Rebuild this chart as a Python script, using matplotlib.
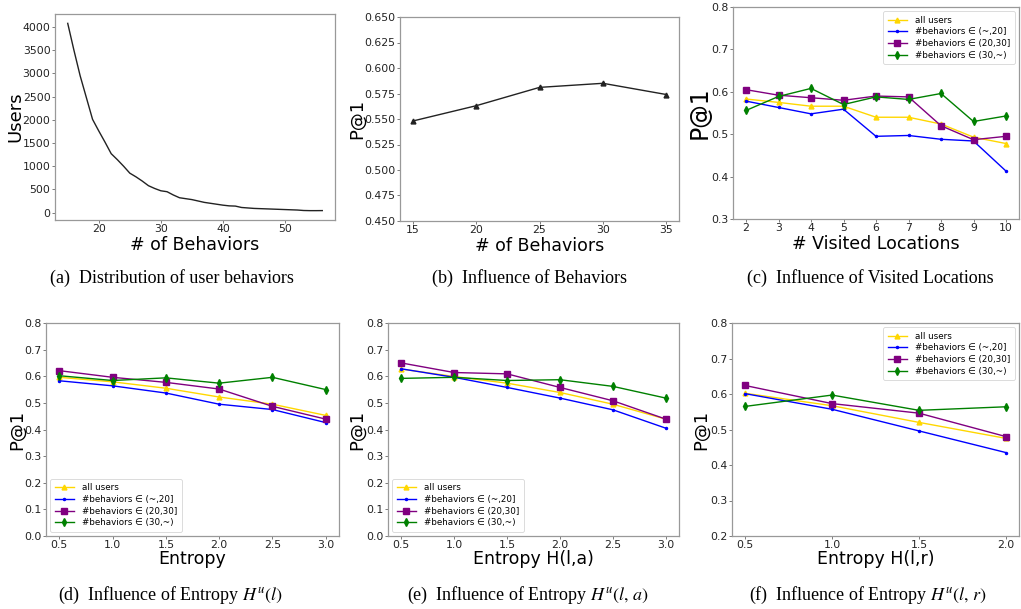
import matplotlib
matplotlib.use('Agg')
from matplotlib import pyplot as plt

plt.rcParams['mathtext.fontset'] = 'stix'

# (a) distribution of user behaviors
behav_x = list(range(15, 57))
users = [4080, 3500, 2950, 2480, 2010, 1760, 1520, 1270, 1140, 1000, 850, 770, 680, 580,
         520, 470, 450, 380, 320, 300, 280, 250, 220, 200, 180, 160, 145, 140, 110, 100,
         90, 85, 80, 75, 70, 65, 60, 55, 45, 42, 42, 43]

# (b) influence of behaviors
b_x = [15, 20, 25, 30, 35]
b_p1 = [0.548, 0.563, 0.581, 0.585, 0.574]

# (c) visited locations
c_x = [2, 3, 4, 5, 6, 7, 8, 9, 10]
c_all = [0.583, 0.575, 0.566, 0.566, 0.540, 0.540, 0.524, 0.493, 0.478]
c_low = [0.578, 0.563, 0.548, 0.559, 0.495, 0.497, 0.488, 0.484, 0.413]
c_mid = [0.605, 0.592, 0.586, 0.580, 0.590, 0.588, 0.520, 0.487, 0.495]
c_high = [0.556, 0.589, 0.608, 0.570, 0.588, 0.582, 0.596, 0.530, 0.543]

# (d) entropy H(l)
d_x = [0.5, 1.0, 1.5, 2.0, 2.5, 3.0]
d_all = [0.596, 0.579, 0.555, 0.522, 0.495, 0.453]
d_low = [0.583, 0.564, 0.537, 0.495, 0.475, 0.426]
d_mid = [0.621, 0.596, 0.577, 0.552, 0.487, 0.439]
d_high = [0.602, 0.584, 0.594, 0.574, 0.596, 0.550]

# (e) entropy H(l,a)
e_x = [0.5, 1.0, 1.5, 2.0, 2.5, 3.0]
e_all = [0.627, 0.599, 0.574, 0.539, 0.495, 0.439]
e_low = [0.628, 0.596, 0.558, 0.518, 0.474, 0.405]
e_mid = [0.650, 0.614, 0.609, 0.558, 0.508, 0.439]
e_high = [0.592, 0.596, 0.584, 0.587, 0.562, 0.518]

# (f) entropy H(l,r)
f_x = [0.5, 1.0, 1.5, 2.0]
f_all = [0.602, 0.567, 0.520, 0.475]
f_low = [0.601, 0.557, 0.496, 0.435]
f_mid = [0.624, 0.573, 0.546, 0.480]
f_high = [0.565, 0.597, 0.554, 0.564]

group_labels = ['all users', '#behaviors \u2208 (~,20]', '#behaviors \u2208 (20,30]',
                '#behaviors \u2208 (30,~)']

captions = ['(a)  Distribution of user behaviors',
            '(b)  Influence of Behaviors',
            '(c)  Influence of Visited Locations',
            '(d)  Influence of Entropy $H^u(l)$',
            '(e)  Influence of Entropy $H^u(l,\\,a)$',
            '(f)  Influence of Entropy $H^u(l,\\,r)$']

W, H = 1021, 609
fig = plt.figure(figsize=(W / 100, H / 100), dpi=100)


def make_ax(l, r, t, b):
    ax = fig.add_axes([l / W, 1 - b / H, (r - l) / W, (b - t) / H])
    ax.box_px = (l, r, t, b)
    for s in ax.spines.values():
        s.set_color('#999999')
        s.set_linewidth(0.9)
    ax.tick_params(labelsize=7.8, color='#666666', length=2, width=0.6, pad=1.2,
                   labelcolor='#222222')
    return ax


def labels(ax, xl, yl, xl_y, yl_x, xs=12.5, ys=13):
    # place axis labels at pixel positions
    l, r, t, b = ax.box_px
    ax.set_xlabel(xl, fontsize=xs)
    ax.set_ylabel(yl, fontsize=ys)
    ax.xaxis.set_label_coords(0.5, (b - xl_y) / (b - t))
    ax.xaxis.label.set_va('center')
    ax.yaxis.set_label_coords((yl_x - l) / (r - l), 0.5)
    ax.yaxis.label.set_va('center')
    ax.yaxis.label.set_ha('center')


def group_plot(ax, x, ys, loc):
    styles = [dict(color='gold', marker='^', ms=3.5),
              dict(color='blue', marker='.', ms=3),
              dict(color='purple', marker='s', ms=4.5),
              dict(color='green', marker='d', ms=4)]
    for y, st, lab in zip(ys, styles, group_labels):
        ax.plot(x, y, lw=1.0, label=lab, **st)
    leg = ax.legend(loc=loc, fontsize=6.3, handlelength=2.2, labelspacing=0.3,
                    borderpad=0.5, handletextpad=0.9, framealpha=0.8)
    leg.get_frame().set_linewidth(0.6)


# (a)
ax = make_ax(55, 335, 14, 220)
ax.plot(behav_x, users, color='#222222', lw=1.0)
ax.set_yticks(range(0, 4001, 500))
labels(ax, '# of Behaviors', 'Users', 245, 15)

# (b)
ax = make_ax(400, 679, 17, 221)
ax.plot(b_x, b_p1, color='#222222', lw=1.0, marker='^', ms=3.5)
ax.set_ylim(0.45, 0.65)
ax.set_yticks([0.45 + 0.025 * i for i in range(9)])
ax.set_xticks(b_x)
labels(ax, '# of Behaviors', 'P@1', 246, 357)

# (c)
ax = make_ax(733, 1019, 7, 219)
group_plot(ax, c_x, [c_all, c_low, c_mid, c_high], 'upper right')
ax.set_ylim(0.3, 0.8)
ax.set_xticks(c_x)
labels(ax, '# Visited Locations', 'P@1', 244, 700, ys=17)

# (d)
ax = make_ax(46, 339, 323, 536)
group_plot(ax, d_x, [d_all, d_low, d_mid, d_high], 'lower left')
ax.set_ylim(0.0, 0.8)
ax.set_xticks(d_x)
labels(ax, 'Entropy', 'P@1', 559, 17)

# (e)
ax = make_ax(388, 679, 323, 536)
group_plot(ax, e_x, [e_all, e_low, e_mid, e_high], 'lower left')
ax.set_ylim(0.0, 0.8)
ax.set_xticks(e_x)
labels(ax, 'Entropy H(l,a)', 'P@1', 559, 357)

# (f)
ax = make_ax(732, 1019, 323, 536)
group_plot(ax, f_x, [f_all, f_low, f_mid, f_high], 'upper right')
ax.set_ylim(0.2, 0.8)
ax.set_xticks(f_x)
labels(ax, 'Entropy H(l,r)', 'P@1', 559, 701)

# captions under each panel
cap_pos = [(172, 278), (529, 278), (870, 278), (170, 595), (528, 595), (868, 595)]
for (cx, cy), txt in zip(cap_pos, captions):
    fig.text(cx / W, 1 - cy / H, txt, ha='center', va='center', fontsize=13,
             family='Liberation Serif')

fig.savefig('out.png', dpi=100)
